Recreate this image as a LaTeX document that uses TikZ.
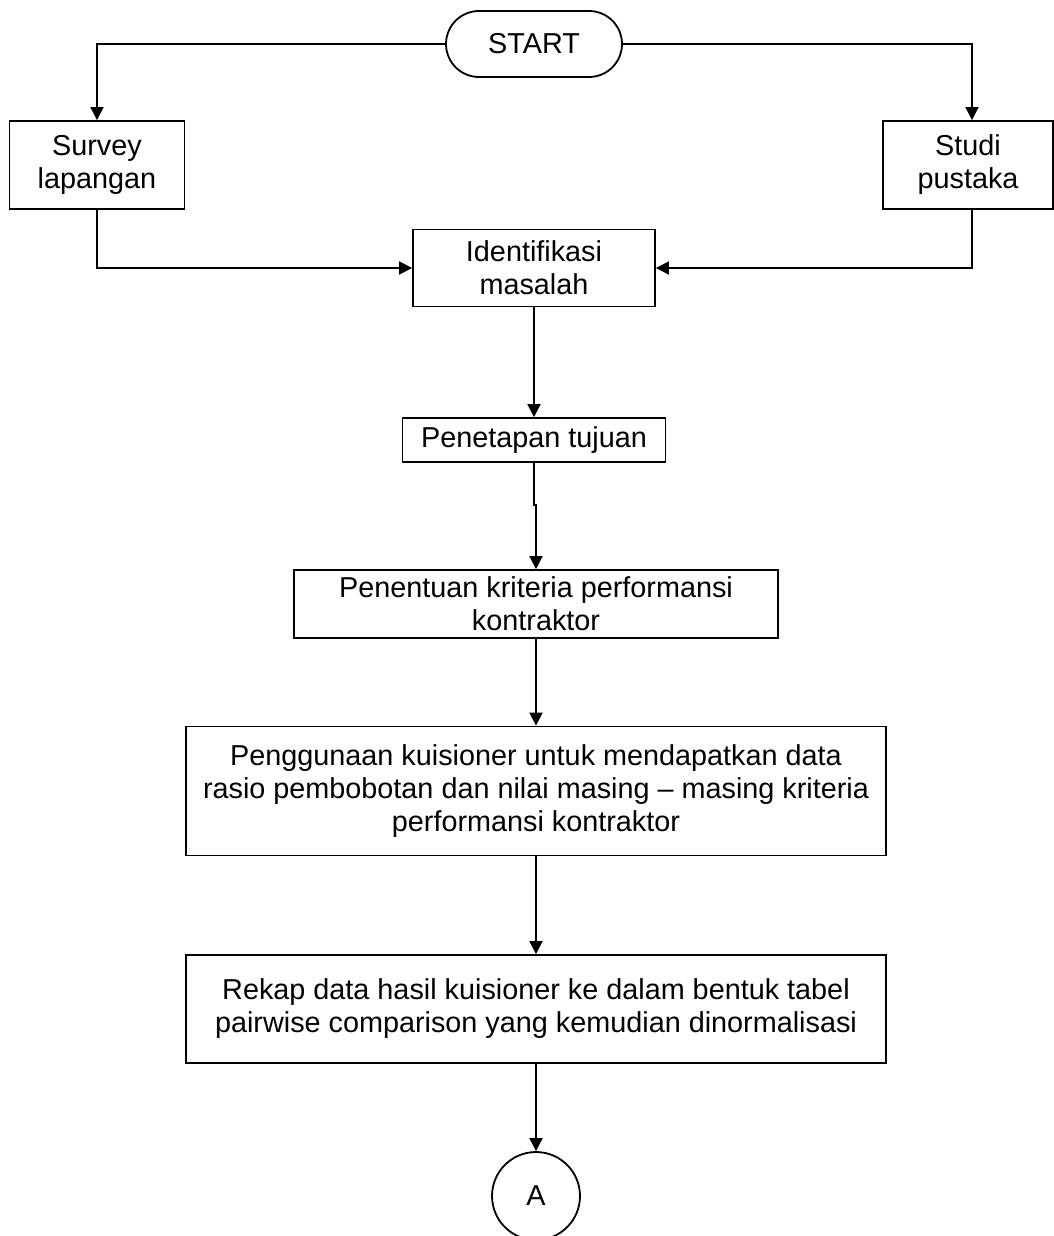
\documentclass[tikz,border=0pt]{standalone}
\usepackage{fontspec}
\setmainfont{Liberation Sans}
\usetikzlibrary{shapes.misc,arrows.meta}

\begin{document}
\begin{tikzpicture}[x=0.5pt,y=-0.5pt,
  font=\fontsize{14.4}{16.5}\selectfont,
  box/.style={draw,line width=0.9pt,inner sep=0pt,align=center},
  term/.style={draw,line width=0.9pt,rounded rectangle,inner sep=0pt},
  conn/.style={draw,line width=0.9pt,circle,inner sep=0pt,minimum size=44pt},
  arr/.style={-{Triangle[length=6.5pt,width=6.5pt]},line width=0.9pt}]
\useasboundingbox (0,0) rectangle (1054,1236);

% draw nodes
\node[term,minimum width=88pt,minimum height=33pt] (start) at (534,44) {START};
\node[box,minimum width=87.5pt,minimum height=44pt] (survey) at (97,165) {Survey\\lapangan};
\node[box,minimum width=85pt,minimum height=44pt] (studi) at (968,165) {Studi\\pustaka};
\node[box,minimum width=121pt,minimum height=38.5pt] (ident) at (534,268) {Identifikasi\\masalah};
\node[box,minimum width=131.5pt,minimum height=22pt] (tujuan) at (534,440) {Penetapan tujuan};
\node[box,minimum width=242pt,minimum height=34pt] (kriteria) at (536,604) {Penentuan kriteria performansi\\kontraktor};
\node[box,minimum width=350pt,minimum height=64.5pt] (guna) at (536,791)
  {Penggunaan kuisioner untuk mendapatkan data\\rasio pembobotan dan nilai masing -- masing kriteria\\performansi kontraktor};
\node[box,minimum width=350pt,minimum height=54pt] (rekap) at (536,1009)
  {Rekap data hasil kuisioner ke dalam bentuk tabel\\pairwise comparison yang kemudian dinormalisasi};
\node[conn] (A) at (536,1196) {A};

% draw arrows
\coordinate (kink) at (534,505);
\draw[arr] (start.west) -| (survey.north);
\draw[arr] (start.east) -| ([xshift=2pt]studi.north);
\draw[arr] (survey.south) |- (ident.west);
\draw[arr] ([xshift=2pt]studi.south) |- (ident.east);
\draw[arr] (ident.south) -- (tujuan.north);
\draw[arr] (tujuan.south) -- (kink) -- (kink -| kriteria.north) -- (kriteria.north);
\draw[arr] (kriteria.south) -- (guna.north);
\draw[arr] (guna.south) -- (rekap.north);
\draw[arr] (rekap.south) -- (A.north);
\end{tikzpicture}
\end{document}
